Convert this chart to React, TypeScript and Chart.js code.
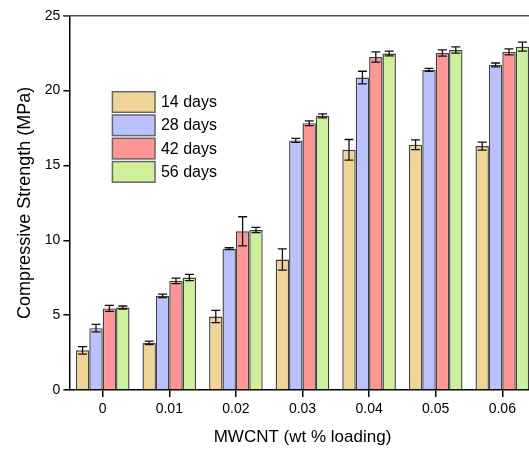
import React, { useEffect, useRef } from "react";
import { Chart, registerables } from "chart.js";

Chart.register(...registerables);

const categories = ["0", "0.01", "0.02", "0.03", "0.04", "0.05", "0.06"];
const seriesNames = ["14 days", "28 days", "42 days", "56 days"];
const days14 = [2.65, 3.15, 4.91, 8.71, 16.04, 16.38, 16.29];
const days28 = [4.13, 6.29, 9.44, 16.67, 20.87, 21.38, 21.71];
const days42 = [5.45, 7.29, 10.6, 17.82, 22.24, 22.51, 22.58];
const days56 = [5.51, 7.51, 10.69, 18.31, 22.47, 22.71, 22.93];
const err14 = [0.25, 0.12, 0.41, 0.71, 0.69, 0.33, 0.27];
const err28 = [0.25, 0.12, 0.06, 0.13, 0.42, 0.1, 0.13];
const err42 = [0.2, 0.18, 0.97, 0.16, 0.34, 0.21, 0.2];
const err56 = [0.1, 0.21, 0.17, 0.13, 0.16, 0.21, 0.3];
const yTicks = [0, 5, 10, 15, 20, 25];

const colors = ["#F0D596", "#BBC1FF", "#FF9696", "#CFF09A"];
const FONT = "'Liberation Sans', Arial, sans-serif";

export default function App() {
  const ref = useRef<HTMLCanvasElement | null>(null);

  useEffect(() => {
    document.body.style.margin = "0";
    const canvas = ref.current;
    if (!canvas) return;
    const values = [days14, days28, days42, days56];
    const errs = [err14, err28, err42, err56];

    const errorBars = {
      id: "errorBars",
      afterDatasetsDraw(chart: any) {
        const ctx = chart.ctx;
        const yScale = chart.scales.y;
        ctx.save();
        ctx.strokeStyle = "#111";
        ctx.lineWidth = 1.3;
        chart.data.datasets.forEach((ds: any, di: number) => {
          const meta = chart.getDatasetMeta(di);
          meta.data.forEach((bar: any, i: number) => {
            const v = values[di][i];
            const e = errs[di][i];
            const yt = yScale.getPixelForValue(v + e);
            const yb = yScale.getPixelForValue(v - e);
            const x = bar.x;
            const cap = 4.5;
            ctx.beginPath();
            ctx.moveTo(x, yt);
            ctx.lineTo(x, yb);
            ctx.moveTo(x - cap, yt);
            ctx.lineTo(x + cap, yt);
            ctx.moveTo(x - cap, yb);
            ctx.lineTo(x + cap, yb);
            ctx.stroke();
          });
        });
        ctx.restore();
      },
    };

    const frame = {
      id: "frame",
      afterDraw(chart: any) {
        const { ctx, chartArea } = chart;
        ctx.save();
        ctx.strokeStyle = "#555";
        ctx.lineWidth = 1.5;
        ctx.beginPath();
        ctx.moveTo(chartArea.left - 6, chartArea.top);
        ctx.lineTo(chartArea.right, chartArea.top);
        ctx.lineTo(chartArea.right, chartArea.bottom);
        ctx.stroke();
        // legend
        const bx = chartArea.left + 43;
        const by0 = chartArea.top + 76;
        const step = 23.3;
        seriesNames.forEach((name, i) => {
          const y = by0 + i * step;
          ctx.fillStyle = colors[i];
          ctx.fillRect(bx, y, 42.6, 20.6);
          ctx.strokeStyle = "#666";
          ctx.lineWidth = 1.5;
          ctx.strokeRect(bx, y, 42.6, 20.6);
          ctx.fillStyle = "#000";
          ctx.font = `16px ${FONT}`;
          ctx.textBaseline = "middle";
          ctx.textAlign = "left";
          ctx.fillText(name, bx + 48.5, y + 10.8);
        });
        ctx.restore();
      },
    };

    const chart = new Chart(canvas, {
      type: "bar",
      data: {
        labels: categories,
        datasets: values.map((vals, i) => ({
          label: seriesNames[i],
          data: vals,
          backgroundColor: colors[i],
          borderColor: "rgba(30,30,30,0.85)",
          borderWidth: 1.4,
          categoryPercentage: 0.805,
          barPercentage: 1,
        })),
      },
      options: {
        responsive: false,
        animation: false,
        layout: { padding: { top: 15.7, right: 14.4, bottom: 0, left: 0 } },
        plugins: {
          legend: { display: false },
          tooltip: { enabled: false },
        },
        scales: {
          x: {
            offset: true,
            grid: {
              offset: false,
              drawOnChartArea: false,
              drawTicks: true,
              tickLength: 7,
              color: "#000",
              lineWidth: 1.5,
            },
            border: { display: true, color: "#000", width: 1.5 },
            ticks: {
              color: "#000",
              font: { size: 14, family: FONT },
              padding: 4,
              maxRotation: 0,
            },
            title: {
              display: true,
              text: "MWCNT (wt % loading)",
              color: "#000",
              font: { size: 17, family: FONT },
              padding: { top: 0, bottom: 3 },
            },
            afterFit: (s: any) => {
              s.height = 61;
            },
          },
          y: {
            min: 0,
            max: 25,
            afterBuildTicks: (s: any) => {
              s.ticks = yTicks.map((v) => ({ value: v }));
            },
            grid: {
              drawOnChartArea: false,
              drawTicks: true,
              tickLength: 6,
              color: "#000",
              lineWidth: 1.5,
            },
            border: { display: true, color: "#000", width: 1.5 },
            ticks: {
              color: "#000",
              font: { size: 14, family: FONT },
              padding: 3,
            },
            title: {
              display: true,
              text: "Compressive Strength (MPa)",
              color: "#000",
              font: { size: 18, family: FONT },
              padding: { top: 14.5, bottom: 0 },
            },
            afterFit: (s: any) => {
              s.width = 69.4;
            },
          },
        },
      },
      plugins: [errorBars, frame],
    });
    return () => chart.destroy();
  }, []);

  return (
    <div style={{ width: 529, height: 451, overflow: "hidden", position: "relative" }}>
      <canvas ref={ref} width={550} height={451} style={{ display: "block" }} />
    </div>
  );
}
